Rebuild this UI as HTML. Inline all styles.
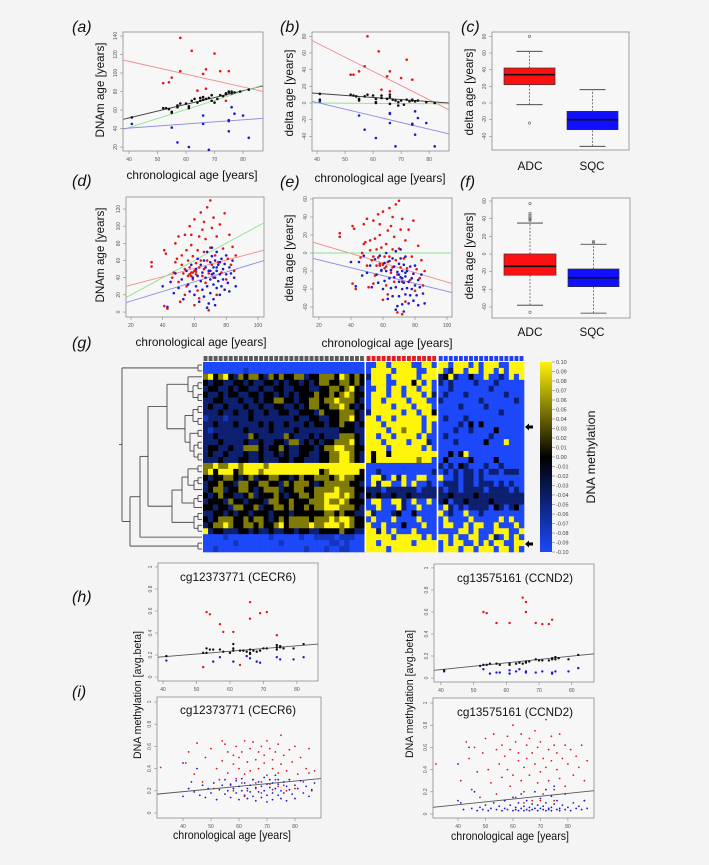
<!DOCTYPE html>
<html><head><meta charset="utf-8"><style>
html,body{margin:0;padding:0;background:#f4f4f4;}
svg{display:block;font-family:"Liberation Sans",sans-serif;}
</style></head><body>
<svg id="fig" width="709" height="865" viewBox="0 0 709 865" xmlns="http://www.w3.org/2000/svg">
<rect x="0" y="0" width="709" height="865" fill="#f4f4f4"/>
</svg>
<script>
// ---------- DATA ----------
const aRed=[[58,138],[62,124],[70,121],[58,102],[67,104],[72,102],[75,102],[66,99],[55,95],[54,90],[52,89],[64,81],[67,83],[74,70]];
const aBlue=[[41,45],[55,41],[57,25],[61,20],[68,17],[66,45],[66,54],[75,49],[75,48],[75,37],[76,63],[77,56],[80,54],[82,30]];
const aBlack=[[41,52],[52,62],[53,62],[54,61],[55,58],[55,57],[57,63],[57,65],[58,67],[60,67],[61,62],[61,64],[62,70],[63,72],[64,68],[65,70],[65,73],[66,74],[66,71],[67,72],[68,73],[69,70],[69,76],[70,68],[71,72],[72,76],[73,75],[74,78],[74,77],[75,79],[75,80],[76,78],[76,80],[77,79],[79,80],[82,82]];
const aLines=[[38,114,87,80,'#f08a8a'],[38,50,87,86,'#444'],[38,39,87,87,'#8ee08e'],[38,40,87,51,'#8a8ae6']];

const bRed=[[58,80],[62,62],[72,52],[57,44],[66,38],[55,38],[53,34],[52,34],[65,32],[70,30],[74,28],[63,16],[66,14]];
const bBlack=[[41,11],[41,4],[52,10],[53,9],[54,8],[55,5],[55,3],[57,8],[58,10],[60,9],[61,5],[61,1],[63,9],[63,6],[65,5],[66,10],[66,7],[67,4],[68,3],[69,1],[70,3],[71,-2],[72,4],[73,2],[74,4],[74,3],[75,2],[76,3],[79,1],[82,0],[61,0],[66,-1],[69,-3]];
const bBlue=[[41,2],[55,-15],[57,-32],[61,-42],[66,-12],[66,-13],[66,-24],[68,-52],[74,-25],[74,-26],[75,-10],[75,-38],[76,-18],[79,-24],[82,-52]];
const bLines=[[38.2,75,87,-8,'#f08a8a'],[38.2,12,87,0,'#444'],[38.2,0,87,-1,'#8ee08e'],[38.2,2,87,-37,'#8a8ae6']];

const groups=['ADC','SQC'];
const cStats=[[-2,22,34,42,62],[-52,-32,-20,-10,16]];
const cOut=[[80,-24],[]];
const fStats=[[-58,-24,-14,0,35],[-67,-37,-27,-17,11]];
const fOut=[[57,46,44,42,40,39,38,-66],[14,13]];

const dRed=[[33,58],[33,53],[41,72],[42,68],[41,7],[43,4],[46,40],[47,46],[48,58],[48,80],[49,62],[50,88],[50,35],[51,12],[52,55],[52,66],[53,45],[54,50],[54,90],[55,72],[55,30],[56,60],[56,42],[57,100],[57,52],[58,78],[58,46],[59,65],[59,38],[60,48],[60,108],[61,57],[61,44],[62,72],[62,25],[63,88],[63,52],[64,60],[64,116],[65,42],[65,96],[66,70],[66,50],[67,34],[67,85],[68,122],[68,60],[69,45],[69,2],[70,130],[70,75],[71,55],[71,98],[72,40],[72,110],[73,66],[74,88],[74,20],[75,58],[76,102],[77,46],[78,74],[79,115],[80,38],[81,62],[82,90],[83,55],[84,76],[85,48],[86,66],[60,8],[54,20],[63,16],[58,90],[66,105],[57,44],[59,46],[61,47],[58,42]];
const dBlue=[[40,30],[43,6],[45,35],[47,22],[48,45],[50,28],[52,38],[53,15],[55,48],[56,32],[57,24],[58,55],[59,40],[60,20],[61,50],[61,30],[62,62],[62,42],[63,12],[64,36],[64,55],[65,26],[65,46],[66,60],[66,18],[67,40],[67,52],[68,30],[68,70],[69,10],[69,48],[70,38],[70,58],[70,22],[71,44],[71,65],[72,32],[72,52],[72,15],[73,40],[73,60],[74,28],[74,48],[74,70],[75,36],[75,55],[76,20],[76,44],[77,62],[77,30],[78,50],[78,38],[79,26],[79,56],[80,44],[80,66],[81,34],[82,52],[82,24],[83,45],[84,60],[85,40],[86,30],[73,8],[68,5],[71,75],[72,45],[74,52],[70,48],[76,58]];
const dLines=[[17,30,103.8,72,'#f08a8a'],[17,17,103.8,104,'#8ee08e'],[17,11,103.8,60,'#8a8ae6']];

const eRed=[[33,22],[33,18],[41,30],[42,27],[41,-34],[43,-40],[46,-5],[47,0],[48,10],[48,32],[49,12],[50,38],[50,-14],[51,-38],[52,3],[52,14],[53,-8],[54,-4],[54,36],[55,16],[55,-25],[56,4],[56,-14],[57,43],[57,-5],[58,20],[58,-12],[59,6],[59,-20],[60,-12],[60,46],[61,-4],[61,-17],[62,10],[62,-36],[63,25],[63,-10],[64,-4],[64,50],[65,-22],[65,30],[66,4],[66,-16],[67,-32],[67,18],[68,54],[68,-8],[69,-24],[69,-66],[70,58],[70,5],[71,-16],[71,26],[72,-32],[72,38],[73,-6],[74,14],[74,-54],[75,-17],[76,26],[77,-30],[78,-4],[79,36],[80,-42],[81,-18],[82,8],[83,-28],[84,-8],[85,-36],[86,-20],[60,-52],[54,-34],[63,-46],[58,32],[66,40],[72,-68],[58,-14],[60,-13],[62,-15]];
const eBlue=[[40,-10],[43,-37],[45,-10],[47,-25],[48,-3],[50,-22],[52,-14],[53,-38],[55,-7],[56,-24],[57,-33],[58,-3],[59,-19],[60,-40],[61,-11],[61,-31],[62,0],[62,-20],[63,-51],[64,-28],[64,-9],[65,-39],[65,-19],[66,-6],[66,-48],[67,-27],[67,-15],[68,-38],[68,2],[69,-59],[69,-21],[70,-32],[70,-12],[70,-48],[71,-27],[71,-6],[72,-40],[72,-20],[72,-57],[73,-33],[73,-13],[74,-46],[74,-26],[74,-4],[75,-39],[75,-20],[76,-56],[76,-32],[77,-15],[77,-47],[78,-28],[78,-40],[79,-53],[79,-23],[80,-36],[80,-14],[81,-47],[82,-30],[82,-58],[83,-38],[84,-24],[85,-45],[86,-56],[73,-65],[68,-63],[71,4],[72,-28],[74,-22],[70,-24]];
const eLines=[[16.3,12,103.1,-34,'#f08a8a'],[16.3,0,103.1,0,'#8ee08e'],[16.3,-6,103.1,-44,'#8a8ae6']];

const hlRed=[[53,0.59],[54,0.57],[57,0.48],[58,0.41],[61,0.41],[66,0.68],[66,0.53],[69,0.58],[71,0.59],[74,0.38],[52,0.09],[63,0.11]];
const hlBlack=[[41,0.19],[52,0.22],[53,0.26],[54,0.25],[55,0.25],[57,0.25],[58,0.23],[61,0.26],[61,0.24],[61,0.30],[63,0.24],[64,0.24],[65,0.23],[66,0.22],[66,0.25],[67,0.24],[68,0.23],[69,0.24],[70,0.26],[71,0.26],[74,0.27],[74,0.29],[74,0.25],[75,0.28],[75,0.27],[76,0.26],[79,0.26],[82,0.30],[53,0.22],[60,0.22],[66,0.21]];
const hlBlue=[[41,0.15],[55,0.14],[57,0.18],[61,0.14],[65,0.19],[66,0.17],[68,0.14],[69,0.13],[74,0.18],[75,0.16],[79,0.16],[82,0.18]];
const hlLines=[[38.5,0.18,86.3,0.30,'#555']];

const hrRed=[[53,0.60],[54,0.59],[57,0.50],[61,0.50],[65,0.73],[66,0.69],[66,0.60],[69,0.50],[71,0.49],[73,0.49],[74,0.53]];
const hrBlack=[[41,0.07],[52,0.11],[53,0.12],[54,0.12],[55,0.13],[57,0.13],[58,0.12],[61,0.13],[61,0.12],[63,0.13],[64,0.14],[65,0.13],[66,0.14],[67,0.15],[69,0.17],[70,0.16],[71,0.16],[73,0.16],[74,0.17],[74,0.18],[75,0.19],[75,0.17],[76,0.18],[79,0.17],[82,0.21],[66,0.15]];
const hrBlue=[[41,0.06],[53,0.08],[55,0.04],[57,0.05],[58,0.05],[61,0.04],[61,0.07],[63,0.06],[64,0.08],[66,0.06],[66,0.05],[69,0.05],[71,0.06],[74,0.05],[74,0.04],[75,0.06],[79,0.06],[82,0.09]];
const hrLines=[[37.9,0.07,86.8,0.22,'#555']];

const ilRed=[[32,0.41],[41,0.45],[42,0.55],[44,0.35],[45,0.63],[47,0.28],[48,0.50],[50,0.58],[51,0.22],[52,0.40],[53,0.30],[54,0.65],[54,0.47],[55,0.62],[56,0.36],[56,0.55],[57,0.25],[58,0.52],[58,0.44],[59,0.31],[59,0.60],[60,0.40],[60,0.50],[61,0.27],[61,0.55],[62,0.65],[62,0.35],[63,0.46],[63,0.20],[64,0.58],[64,0.38],[65,0.64],[65,0.30],[66,0.48],[66,0.22],[67,0.55],[67,0.40],[68,0.28],[68,0.60],[69,0.45],[69,0.52],[70,0.65],[70,0.34],[71,0.58],[71,0.26],[72,0.48],[72,0.40],[73,0.55],[73,0.30],[74,0.62],[74,0.36],[75,0.70],[75,0.44],[76,0.25],[76,0.52],[77,0.38],[78,0.57],[78,0.30],[79,0.46],[80,0.22],[80,0.60],[81,0.35],[82,0.50],[83,0.28],[84,0.40],[85,0.58],[85,0.36],[86,0.20],[87,0.38],[62,0.15],[68,0.18],[72,0.21],[58,0.20],[74,0.24],[77,0.20],[66,0.27]];
const ilBlue=[[40,0.45],[40,0.15],[42,0.22],[43,0.28],[44,0.19],[45,0.40],[46,0.16],[47,0.25],[48,0.14],[49,0.22],[50,0.18],[51,0.27],[52,0.12],[53,0.21],[54,0.25],[55,0.17],[55,0.30],[56,0.20],[57,0.14],[57,0.26],[58,0.22],[59,0.18],[59,0.29],[60,0.12],[60,0.24],[61,0.20],[61,0.31],[62,0.16],[62,0.27],[63,0.22],[63,0.13],[64,0.25],[64,0.19],[65,0.30],[65,0.15],[66,0.23],[66,0.11],[67,0.28],[67,0.19],[68,0.24],[68,0.14],[69,0.32],[69,0.20],[70,0.26],[70,0.16],[70,0.10],[71,0.23],[71,0.30],[72,0.18],[72,0.27],[72,0.12],[73,0.22],[73,0.34],[74,0.16],[74,0.26],[74,0.30],[75,0.20],[75,0.13],[76,0.28],[76,0.18],[77,0.24],[77,0.11],[78,0.21],[78,0.30],[79,0.17],[80,0.25],[80,0.13],[81,0.22],[82,0.29],[83,0.18],[84,0.24],[85,0.15],[86,0.21],[87,0.27]];
const ilLines=[[30.7,0.17,89.3,0.31,'#555']];

const irRed=[[32,0.45],[41,0.30],[43,0.65],[44,0.50],[45,0.22],[46,0.60],[47,0.38],[48,0.15],[49,0.55],[50,0.68],[51,0.40],[52,0.28],[53,0.72],[54,0.58],[54,0.18],[55,0.45],[56,0.62],[56,0.33],[57,0.12],[57,0.52],[58,0.70],[58,0.40],[59,0.25],[59,0.58],[60,0.80],[60,0.35],[61,0.65],[61,0.15],[62,0.48],[62,0.55],[63,0.30],[63,0.72],[64,0.42],[64,0.20],[65,0.62],[65,0.50],[66,0.35],[66,0.68],[67,0.12],[67,0.55],[68,0.45],[68,0.75],[69,0.60],[69,0.28],[70,0.38],[70,0.65],[71,0.50],[71,0.18],[72,0.85],[72,0.42],[73,0.58],[73,0.30],[74,0.70],[74,0.48],[75,0.22],[75,0.62],[76,0.40],[76,0.55],[77,0.72],[77,0.32],[78,0.50],[79,0.62],[79,0.25],[80,0.45],[81,0.58],[82,0.35],[83,0.52],[84,0.42],[85,0.62],[86,0.30],[87,0.48],[86,0.12],[64,0.10],[70,0.12],[75,0.12]];
const irBlue=[[40,0.45],[40,0.12],[41,0.10],[42,0.04],[44,0.60],[45,0.05],[46,0.20],[47,0.03],[48,0.06],[49,0.04],[50,0.08],[51,0.03],[52,0.05],[53,0.10],[54,0.04],[55,0.07],[56,0.03],[57,0.12],[57,0.05],[58,0.04],[59,0.08],[60,0.03],[60,0.15],[61,0.06],[61,0.04],[62,0.10],[62,0.03],[63,0.05],[63,0.18],[64,0.07],[64,0.03],[65,0.04],[65,0.12],[66,0.06],[66,0.03],[67,0.09],[67,0.04],[68,0.05],[68,0.20],[69,0.03],[69,0.08],[70,0.05],[70,0.14],[71,0.04],[71,0.07],[72,0.03],[72,0.22],[72,0.10],[73,0.05],[73,0.04],[74,0.16],[74,0.06],[74,0.03],[75,0.09],[75,0.25],[76,0.04],[76,0.12],[77,0.05],[77,0.03],[78,0.08],[79,0.04],[79,0.18],[80,0.06],[81,0.03],[82,0.10],[83,0.05],[84,0.07],[85,0.04],[86,0.12],[87,0.05]];
const irLines=[[30.9,0.06,89.5,0.21,'#555']];

// heatmap: rows = G(32) | R(14) | U(17); B=-0.1 b=-0.05 k=0 y=0.05 Y=0.1
const hmLevels={B:-0.1,d:-0.075,b:-0.045,k:0,y:0.05,Y:0.1};
const hmGroups=['grey','red','blue'];
const hmGroupCols=[32,14,17];
const hmRows=[
"BBBBBBBBBBBBBBBBBBBBBBBBBBBBBBBB|BBYYBYYYYBBYYB|YYBYYYBYBYYYBBYYY",
"BBBBBBBBdBBBBBBBBBBBBBBBBBBBBBBB|BYYYYBYYYYBBYY|YBbYYBYYBYYBYBYYY",
"yYkyYkbykyykbykykkyybkkyyykYykyk|bYYYBYYYYYBYYY|bkYbBBkBBYBBbBYBY",
"kbkkbbkkbkbbkkbkbkkbkbkyykkyykyk|BYYYBBYYYkYBYB|bBbBBBBbBBBbBBBBB",
"bkkbbkbkkbbkbbkkbbkkkbbkkyykyYkb|BBYYBYYBYYBYYB|BBbBBBBBBBbBBBBBB",
"kbbkbkkbbkkbkkbkbkbkkkykkykyYykk|BYYYBYYBYYYBYb|BbBBBbBBBBBBBbBBB",
"bbkkbbbkbbkbkkyykkbkkyykyyYyyykb|BYYBYYYYBYYYBB|bBBBBBBBbBBBBBBbB",
"bkbbkbbbkbbkbbkkbbkbkyykkyyYykbk|BYYYYBYYYBYYYB|BBBBbBBBBbBBBBBBB",
"bbbkbbkbbkbbkbbkkbbkkkbykkkyyykb|bYYYYYYBYYBYYk|BBBBBBBBBBBBbBBBB",
"dbbbdbbbbkbbbbbbbbkbbkkbbkkyyYkb|YYBYYBYYYYYBYY|BbBBBbBBBBBBBBBBB",
"bbkbbbkbbbbkbkbbkbbbkbkkbkkykkbk|YYYBYYYYYYYBYB|BBBBbBkBkBBBBBBBB",
"bdbbbbbbkbbbbkbbbbkbbbbbbbbkkkbb|YYYYBYYyYYYBYB|BBBbBBbBBBBkBBBBB",
"bbkbbbbbbykbbbbbykbbbkbkbbbyyykb|YYBYYBYYYYBYBB|BbBBBBBBBBbBBBBBB",
"bbbkbbbbkbbkbbkkbyybkbkbkkyyyYkb|YYYBYYYYBYYYbB|BBBbBBBBBkBBBYBBB",
"bkkbbkbbyyykbkkykbbkkkbkyyYYyykk|YYYYBYYYYYYBYB|BBBBBBBBBBBBBBBBB",
"bkbbkbbbkbbkbbkbkbbkkbbkkyyYYykb|YkYYkYYYYYYYYY|BBkBkYBBBBBBBBBBB",
"bbbkbbbkkbbkbbbkkbkkbbbkkyyYYykb|YkYYYYYYYYyYYB|BkBBBBkBBBBkBBBBB",
"yyYyyYYyYYYYyYYYYYYYYYYYYYYYYYYY|BBBBBBBBBBBBBB|bBbBkbBBBbBBbBBBB",
"yYkYYYkyYYYyYYYYYYYYYYYkyYYYYYYk|BBbBBBBBBBBBBb|BbBbBbbBbBbbBbbbB",
"kbkkyykbkybkkyykkbkykkyyykyYyykk|BYYbBYbYBBYYBB|YBBbBbbBbBBBBBBBB",
"bkkykkbyykkyykkbykyyykbkyyyyykkb|BYbYYBBYBYBBbB|BbbbBbbBbbbBbBbBB",
"bkyybkkyykbkyyybkkyykkyyyyYyyykk|bbbBbbbbbbBbbb|bBbbBbbbbBbbbbBbB",
"kbkykkbbkybkkkykbkkyykyyYYYyYykb|kbkbbkbbkbbbbb|bbkbbbbkbbbbbbbbb",
"bkkkbykkbkkkbyykkykkkyyyYyyYykkk|BYYBBYYbBYBBYB|bkBbbkbbbbkbbbbbb",
"kkbkkbyykkybkkyykykkykyyYYYyyykb|BBYBBBYbBBYBBB|BYbBbBbbbbBkbBbkB",
"bbkkbkbkkbkkkbkkkbkkkkkkyykykkbb|YbBBBbkBBkBBBB|YBbBBYBBbBBBBBBBB",
"kbkyyykkykyykbkykyyyykyyyYyYYykk|BYBBBYBBBBYBBB|BYBBBBYBBBBBYBYBB",
"bkyyYykkyykykkyYkyyyyYyyYYYyYykk|YBBYBBBkBBBYBB|BYYBBYBYYBBYBBBYB",
"Ybkkbbbkkbkbbkbbkkbkkbbkkkkykkbb|YYbYBYBBBYBBBB|BBBBYYBYBBBYYYBBY",
"BBBBdBBBBBBBBdBBBBBdBBddddBdddBB|YYYYYBYYYYYBYB|YYBYBBYYBBYbBYBYB",
"BBBBBBdBBBBBBBBdBBBBBBBBBddBdBBB|YYBYYYYYYBYYYY|BYBYYBBYBYBYYBBYY",
"BBdBBBBBBBBBBBBBBBBBdBBBdBBddBBB|YYYYBYYYYYYYYY|BYYYBYYBYYYBYYBYB"
];
const cbTicks=[0.10,0.09,0.08,0.07,0.06,0.05,0.04,0.03,0.02,0.01,0.00,-0.01,-0.02,-0.03,-0.04,-0.05,-0.06,-0.07,-0.08,-0.09,-0.10];
// dendrogram: [left,right,height px]
const treeA=[0,1,4];
const treeB=[[2,[[3,4,4],[5,6,4],9],14],[[[7,8,4],[9,10,4],9],[[11,12,4],[[13,14,4],[15,16,4],8],12],17],35];
const treeC=[[[[17,18,4],[[19,20,4],21,8],14],[[22,23,4],24,8],20],[[25,26,4],[27,28,4],8],30];
const treeBC=[treeB,treeC,54];
const treeR1=[treeBC,29,62];
const treeR2=[treeR1,[30,31,4],72];
const dendroTree=[treeA,treeR2,80];

// ---------- HELPERS ----------
const NS='http://www.w3.org/2000/svg';
const svg=document.getElementById('fig');
function mk(tag,attrs,name,parent){
  const el=document.createElementNS(NS,tag);
  for(const k in attrs) el.setAttribute(k,attrs[k]);
  
  
  (parent||svg).appendChild(el);
  return el;
}
function txt(x,y,s,size,name,opt,parent){
  opt=opt||{};
  const a={x:x,y:y,'font-size':size,fill:opt.fill||'#111','text-anchor':opt.anchor||'middle'};
  if(opt.len){a.textLength=opt.len;a.lengthAdjust='spacingAndGlyphs';}
  if(opt.rot) a.transform='rotate(-90 '+x+' '+y+')';
  if(opt.italic) a['font-style']='italic';
  const t=mk('text',a,name,parent);
  t.textContent=s;
  return t;
}
function scale(d0,d1,p0,p1){return v=>p0+(v-d0)*(p1-p0)/(d1-d0);}

function frame(name,box,xdom,ydom,xticks,yticks){
  const g=mk('g',{},name);
  mk('rect',{x:box[0],y:box[1],width:box[2]-box[0],height:box[3]-box[1],fill:'#f7f7f7',stroke:'#8a8a8a','stroke-width':0.8},name+'-plot-area',g);
  const sx=scale(xdom[0],xdom[1],box[0],box[2]);
  const sy=scale(ydom[0],ydom[1],box[3],box[1]);
  if(xticks){xticks.forEach(v=>{
    mk('line',{x1:sx(v),x2:sx(v),y1:box[3],y2:box[3]+3,stroke:'#888','stroke-width':0.6},name+'-x-tick',g);
    txt(sx(v),box[3]+10,String(v),5,name+'-x-tick-label',{fill:'#555'},g);
  });}
  yticks.forEach(v=>{
    mk('line',{x1:box[0]-3,x2:box[0],y1:sy(v),y2:sy(v),stroke:'#888','stroke-width':0.6},name+'-y-tick',g);
    txt(box[0]-6,sy(v),String(v),5,name+'-y-tick-label',{fill:'#555',rot:true},g);
  });
  return {g,sx,sy};
}
function scatter(f,name,series,lines,r){
  lines.forEach(l=>{
    mk('line',{x1:f.sx(l[0]),y1:f.sy(l[1]),x2:f.sx(l[2]),y2:f.sy(l[3]),stroke:l[4],'stroke-width':0.9},name+'-fit-line',f.g);
  });
  series.forEach(s=>{
    s.pts.forEach(p=>{
      mk('circle',{cx:f.sx(p[0]),cy:f.sy(p[1]),r:r,fill:s.color},name+'-point-'+s.key,f.g);
    });
  });
}
function boxplot(f,name,stats,outs,xs,colors){
  stats.forEach((s,i)=>{
    const x0=xs[i][0],x1=xs[i][1],xc=(x0+x1)/2;
    mk('line',{x1:xc,x2:xc,y1:f.sy(s[0]),y2:f.sy(s[1]),stroke:'#444','stroke-width':0.7,'stroke-dasharray':'2,1.5'},name+'-whisker-low',f.g);
    mk('line',{x1:xc,x2:xc,y1:f.sy(s[3]),y2:f.sy(s[4]),stroke:'#444','stroke-width':0.7,'stroke-dasharray':'2,1.5'},name+'-whisker-high',f.g);
    mk('line',{x1:xc-13,x2:xc+13,y1:f.sy(s[0]),y2:f.sy(s[0]),stroke:'#333','stroke-width':0.8},name+'-cap-low',f.g);
    mk('line',{x1:xc-13,x2:xc+13,y1:f.sy(s[4]),y2:f.sy(s[4]),stroke:'#333','stroke-width':0.8},name+'-cap-high',f.g);
    mk('rect',{x:x0,y:f.sy(s[3]),width:x1-x0,height:f.sy(s[1])-f.sy(s[3]),fill:colors[i],stroke:'#333','stroke-width':0.7},name+'-box-'+groups[i],f.g);
    mk('line',{x1:x0,x2:x1,y1:f.sy(s[2]),y2:f.sy(s[2]),stroke:'#111','stroke-width':1.6},name+'-median-'+groups[i],f.g);
    outs[i].forEach(o=>{
      mk('circle',{cx:xc,cy:f.sy(o),r:1.2,fill:'none',stroke:'#666','stroke-width':0.6},name+'-outlier',f.g);
    });
  });
}
const RED='#e01818',BLUE='#1c1cc8',BLK='#111';

// ---------- PANEL LABELS ----------
[['(a)',72,32],['(b)',280,32],['(c)',461,32],['(d)',72,186],['(e)',280,187],['(f)',460,187],['(g)',72,348],['(h)',72,602],['(i)',72,697]].forEach(l=>{
  txt(l[1],l[2],l[0],16,'panel-label',{anchor:'start',italic:true});
});

// (a)
let fa=frame('panel-a',[123,32,263,151],[37.9,87],[15.7,144.3],[40,50,60,70,80],[20,40,60,80,100,120,140]);
scatter(fa,'panel-a',[{pts:aRed,color:RED,key:'adc'},{pts:aBlue,color:BLUE,key:'sqc'},{pts:aBlack,color:BLK,key:'normal'}],aLines,1.3);
txt(192,179,'chronological age [years]',12,'panel-a-x-axis-title',{len:131});
txt(104,90,'DNAm age [years]',12,'panel-a-y-axis-title',{rot:true,len:95});
// (b)
let fb=frame('panel-b',[312,32,449,151],[38.2,87.1],[-57.6,85.2],[40,50,60,70,80],[-40,-20,0,20,40,60,80]);
scatter(fb,'panel-b',[{pts:bRed,color:RED,key:'adc'},{pts:bBlue,color:BLUE,key:'sqc'},{pts:bBlack,color:BLK,key:'normal'}],bLines,1.3);
txt(380,182,'chronological age [years]',12,'panel-b-x-axis-title',{len:131});
txt(293,93,'delta age [years]',12,'panel-b-y-axis-title',{rot:true,len:87});
// (c)
let fc=frame('panel-c',[492,32,629,150],[0,1],[-56.4,85.2],null,[-40,-20,0,20,40,60,80]);
boxplot(fc,'panel-c',cStats,cOut,[[504,555],[567,618]],['#ff1010','#1010ff']);
txt(530,170,'ADC',12,'panel-c-group-label',{len:25});
txt(592,170,'SQC',12,'panel-c-group-label',{len:25});
txt(473,92,'delta age [years]',12,'panel-c-y-axis-title',{rot:true,len:87});
// (d)
let fd=frame('panel-d',[126,197,264,317],[16.9,103.8],[-5.8,134],[20,40,60,80,100],[0,20,40,60,80,100,120]);
scatter(fd,'panel-d',[{pts:dRed,color:RED,key:'adc'},{pts:dBlue,color:BLUE,key:'sqc'}],dLines,1.3);
txt(201,346,'chronological age [years]',12,'panel-d-x-axis-title',{len:131});
txt(104,255,'DNAm age [years]',12,'panel-d-y-axis-title',{rot:true,len:95});
// (e)
let fe=frame('panel-e',[313,198,452,317],[16.3,103.1],[-71.1,61.1],[20,40,60,80,100],[-60,-40,-20,0,20,40,60]);
scatter(fe,'panel-e',[{pts:eRed,color:RED,key:'adc'},{pts:eBlue,color:BLUE,key:'sqc'}],eLines,1.3);
txt(387,347,'chronological age [years]',12,'panel-e-x-axis-title',{len:131});
txt(293,258,'delta age [years]',12,'panel-e-y-axis-title',{rot:true,len:87});
// (f)
let ff=frame('panel-f',[492,198,630,318],[0,1],[-72.5,63.4],null,[-60,-40,-20,0,20,40,60]);
boxplot(ff,'panel-f',fStats,fOut,[[504,556],[568,619]],['#ff1010','#1010ff']);
txt(530,336,'ADC',12,'panel-f-group-label',{len:25});
txt(592,336,'SQC',12,'panel-f-group-label',{len:25});
txt(473,256,'delta age [years]',12,'panel-f-y-axis-title',{rot:true,len:87});

// (g) heatmap
(function(){
  const g=mk('g',{},'panel-g-heatmap');
  const x0=203,x1=524,y0=362,y1=552;
  const sepW=1.5;
  const total=hmGroupCols.reduce((a,b)=>a+b,0);
  const cw=(x1-x0-2*sepW)/total;
  const rh=(y1-y0)/hmRows.length;
  function col(v){
    const t=Math.min(1,Math.abs(v)/0.1);
    if(v<0) return 'rgb('+Math.round(28*t)+','+Math.round(72*t)+','+Math.round(250*t)+')';
    return 'rgb('+Math.round(255*t)+','+Math.round(245*t)+','+Math.round(10*t)+')';
  }
  const stripCol={grey:'#5a5a5a',red:'#e02020',blue:'#2040f0'};
  hmRows.forEach((row,ri)=>{
    const parts=row.split('|');
    let cx=x0;
    parts.forEach((p,gi)=>{
      for(let c=0;c<hmGroupCols[gi];c++){
        const ch=p[Math.min(c,p.length-1)];
        mk('rect',{x:cx+c*cw,y:y0+ri*rh,width:cw+0.3,height:rh+0.3,fill:col(hmLevels[ch])},'heatmap-cell',g);
      }
      cx+=hmGroupCols[gi]*cw+sepW;
    });
  });
  let cx=x0;
  hmGroupCols.forEach((n,gi)=>{
    for(let c=0;c<n;c++){
      mk('rect',{x:cx+c*cw+0.6,y:356,width:cw-1.2,height:5,fill:stripCol[hmGroups[gi]]},'column-group-marker',g);
    }
    cx+=n*cw;
    if(gi<2){mk('rect',{x:cx,y:y0,width:sepW,height:y1-y0,fill:'#ffffff'},'group-separator',g);}
    cx+=sepW;
  });
  function draw(node){
    if(typeof node==='number'){return {x:x0-1,y:y0+(node+0.5)*rh};}
    const a=draw(node[0]),b=draw(node[1]);
    const x=x0-1-node[2];
    mk('line',{x1:x,y1:a.y,x2:a.x,y2:a.y,stroke:'#333','stroke-width':0.8},'dendrogram-branch',g);
    mk('line',{x1:x,y1:b.y,x2:b.x,y2:b.y,stroke:'#333','stroke-width':0.8},'dendrogram-branch',g);
    mk('line',{x1:x,y1:a.y,x2:x,y2:b.y,stroke:'#333','stroke-width':0.8},'dendrogram-branch',g);
    return {x:x,y:(a.y+b.y)/2};
  }
  const root=draw(dendroTree);
  mk('line',{x1:root.x-3,y1:root.y,x2:root.x,y2:root.y,stroke:'#333','stroke-width':0.8},'dendrogram-root',g);
  const defs=mk('defs',{},'defs',g);
  const lg=mk('linearGradient',{id:'cb',x1:0,y1:0,x2:0,y2:1},'colorbar-gradient',defs);
  [['0','#fff20a'],['0.5','#000000'],['1','#1c48fa']].forEach(s=>{mk('stop',{offset:s[0],'stop-color':s[1]},'gradient-stop',lg);});
  mk('rect',{x:540,y:y0,width:12,height:y1-y0,fill:'url(#cb)'},'colorbar',g);
  const sc=scale(0.10,-0.10,y0,y1);
  cbTicks.forEach(v=>{
    mk('line',{x1:552,x2:555,y1:sc(v),y2:sc(v),stroke:'#666','stroke-width':0.5},'colorbar-tick',g);
    txt(556,sc(v)+1.8,v.toFixed(2),5.5,'colorbar-tick-label',{anchor:'start',fill:'#444'},g);
  });
  txt(595,457,'DNA methylation',12,'colorbar-title',{rot:true,len:93});
  [427,544].forEach(y=>{
    mk('polygon',{points:'525,'+y+' 529,'+(y-3.5)+' 529,'+(y-1.5)+' 533,'+(y-1.5)+' 533,'+(y+1.5)+' 529,'+(y+1.5)+' 529,'+(y+3.5)},'row-arrow',g);
  });
})();

// (h)
const yt=[0,0.2,0.4,0.6,0.8,1];
let fhl=frame('panel-h-left',[158,563,318,681],[38.5,86.3],[-0.036,1.036],[40,50,60,70,80],yt);
scatter(fhl,'panel-h-left',[{pts:hlRed,color:RED,key:'adc'},{pts:hlBlue,color:BLUE,key:'sqc'},{pts:hlBlack,color:BLK,key:'normal'}],hlLines,1.2);
txt(238,581,'cg12373771 (CECR6)',12,'panel-h-left-title',{len:116});
let fhr=frame('panel-h-right',[434,564,594,682],[37.9,86.8],[-0.036,1.036],[40,50,60,70,80],yt);
scatter(fhr,'panel-h-right',[{pts:hrRed,color:RED,key:'adc'},{pts:hrBlue,color:BLUE,key:'sqc'},{pts:hrBlack,color:BLK,key:'normal'}],hrLines,1.2);
txt(515,582,'cg13575161 (CCND2)',12,'panel-h-right-title',{len:116});
// (i)
let fil=frame('panel-i-left',[157,697,321,818],[30.7,89.3],[-0.045,1.045],[40,50,60,70,80],yt);
scatter(fil,'panel-i-left',[{pts:ilRed,color:RED,key:'adc'},{pts:ilBlue,color:BLUE,key:'sqc'}],ilLines,0.9);
txt(238,714,'cg12373771 (CECR6)',12,'panel-i-left-title',{len:116});
let fir=frame('panel-i-right',[433,698,594,818],[30.9,89.5],[-0.036,1.045],[40,50,60,70,80],yt);
scatter(fir,'panel-i-right',[{pts:irRed,color:RED,key:'adc'},{pts:irBlue,color:BLUE,key:'sqc'}],irLines,0.9);
txt(515,716,'cg13575161 (CCND2)',12,'panel-i-right-title',{len:116});
txt(232,839,'chronological age [years]',12,'panel-i-left-x-axis-title',{len:118});
txt(510,840,'chronological age [years]',12,'panel-i-right-x-axis-title',{len:118});
txt(141,695,'DNA methylation [avg.beta]',11,'panel-hi-left-y-axis-title',{rot:true,len:128});
txt(413,694,'DNA methylation [avg.beta]',11,'panel-hi-right-y-axis-title',{rot:true,len:128});
</script>
</body></html>
